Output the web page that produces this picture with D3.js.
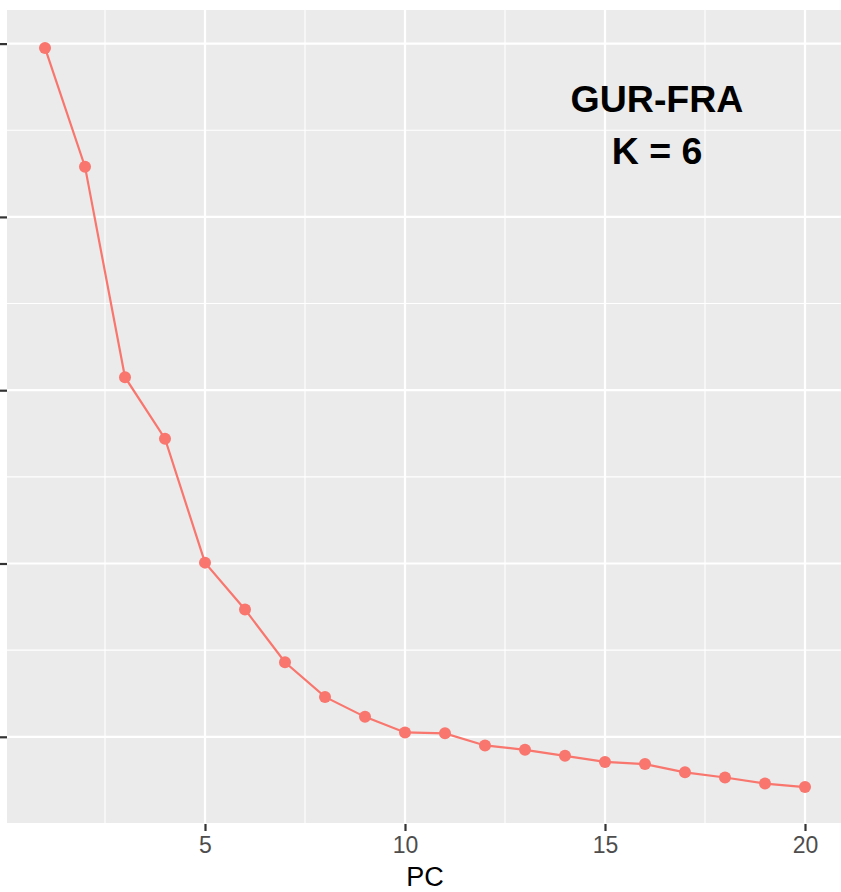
<!DOCTYPE html>
<html>
<head>
<meta charset="utf-8">
<script src="https://cdn.jsdelivr.net/npm/d3@7"></script>
<style>
  body { margin: 0; background: #fff; }
  svg { display: block; }
  text { font-family: "Liberation Sans", Arial, Helvetica, sans-serif; }
</style>
</head>
<body>
<svg id="chart" width="841" height="892"></svg>
<script>
// Data
const pcs = [1,2,3,4,5,6,7,8,9,10,11,12,13,14,15,16,17,18,19,20];
const values = [9.95, 8.58, 6.15, 5.44, 4.01, 3.47, 2.86, 2.46, 2.23, 2.05, 2.04, 1.90, 1.85, 1.78, 1.71, 1.685, 1.59, 1.53, 1.46, 1.42];
const xTicks = [5, 10, 15, 20];
const xMinor = [2.5, 7.5, 12.5, 17.5];
const yTicks = [2, 4, 6, 8, 10];
const yMinor = [1, 3, 5, 7, 9];
const titleLines = ["GUR-FRA", "K = 6"];
const xLabel = "PC";

const svg = d3.select("#chart");
const panel = { left: 7, right: 843, top: 11, bottom: 824 };

const xExp = (20 - 1) * 0.05;
const x = d3.scaleLinear().domain([1 - xExp, 20 + xExp]).range([panel.left, panel.right]);
const yMin = d3.min(values), yMax = d3.max(values);
const yExp = (yMax - yMin) * 0.05;
const y = d3.scaleLinear().domain([yMin - yExp, yMax + yExp]).range([panel.bottom, panel.top]);

// panel background
svg.append("rect")
  .attr("x", panel.left).attr("y", panel.top - 1)
  .attr("width", panel.right - panel.left).attr("height", panel.bottom - panel.top + 1)
  .attr("fill", "#EBEBEB");

const grid = svg.append("g");
// minor grid
grid.selectAll(".xm").data(xMinor).enter().append("line")
  .attr("x1", d => x(d)).attr("x2", d => x(d))
  .attr("y1", panel.top - 1).attr("y2", panel.bottom)
  .attr("stroke", "#fff").attr("stroke-width", 1.1);
grid.selectAll(".ym").data(yMinor).enter().append("line")
  .attr("y1", d => y(d)).attr("y2", d => y(d))
  .attr("x1", panel.left).attr("x2", panel.right)
  .attr("stroke", "#fff").attr("stroke-width", 1.1);
// major grid
grid.selectAll(".xM").data(xTicks).enter().append("line")
  .attr("x1", d => x(d)).attr("x2", d => x(d))
  .attr("y1", panel.top - 1).attr("y2", panel.bottom)
  .attr("stroke", "#fff").attr("stroke-width", 2.2);
grid.selectAll(".yM").data(yTicks).enter().append("line")
  .attr("y1", d => y(d)).attr("y2", d => y(d))
  .attr("x1", panel.left).attr("x2", panel.right)
  .attr("stroke", "#fff").attr("stroke-width", 2.2);

// x axis
const xAxis = d3.axisBottom(x).tickValues(xTicks).tickSize(7).tickPadding(6);
const gx = svg.append("g").attr("transform", `translate(0,${panel.bottom})`).call(xAxis);
gx.select(".domain").remove();
gx.selectAll(".tick line").attr("stroke", "#333333").attr("stroke-width", 2.2);
gx.selectAll(".tick text").attr("fill", "#4D4D4D").attr("font-size", 23)
  .attr("font-family", '"Liberation Sans", Arial, sans-serif');

// y axis ticks (labels lie outside the visible area)
const yAxis = d3.axisLeft(y).tickValues(yTicks).tickSize(7).tickFormat("");
const gy = svg.append("g").attr("transform", `translate(${panel.left},0)`).call(yAxis);
gy.select(".domain").remove();
gy.selectAll(".tick line").attr("stroke", "#333333").attr("stroke-width", 2.2);

// x label
svg.append("text")
  .attr("x", (panel.left + panel.right) / 2).attr("y", 886)
  .attr("text-anchor", "middle").attr("font-size", 27).attr("fill", "#000")
  .text(xLabel);

// line
const line = d3.line().x((d, i) => x(pcs[i])).y(d => y(d));
svg.append("path").datum(values)
  .attr("d", line).attr("fill", "none")
  .attr("stroke", "#F8766D").attr("stroke-width", 2.2);

// points
svg.selectAll(".pt").data(values).enter().append("circle")
  .attr("cx", (d, i) => x(pcs[i])).attr("cy", d => y(d))
  .attr("r", 6).attr("fill", "#F8766D");

// annotation
const ann = svg.append("text").attr("text-anchor", "middle")
  .attr("font-size", 37.5).attr("font-weight", "bold").attr("fill", "#000");
ann.selectAll("tspan").data(titleLines).enter().append("tspan")
  .attr("x", 657).attr("y", (d, i) => 112 + i * 51.5)
  .text(d => d);
</script>
</body>
</html>
